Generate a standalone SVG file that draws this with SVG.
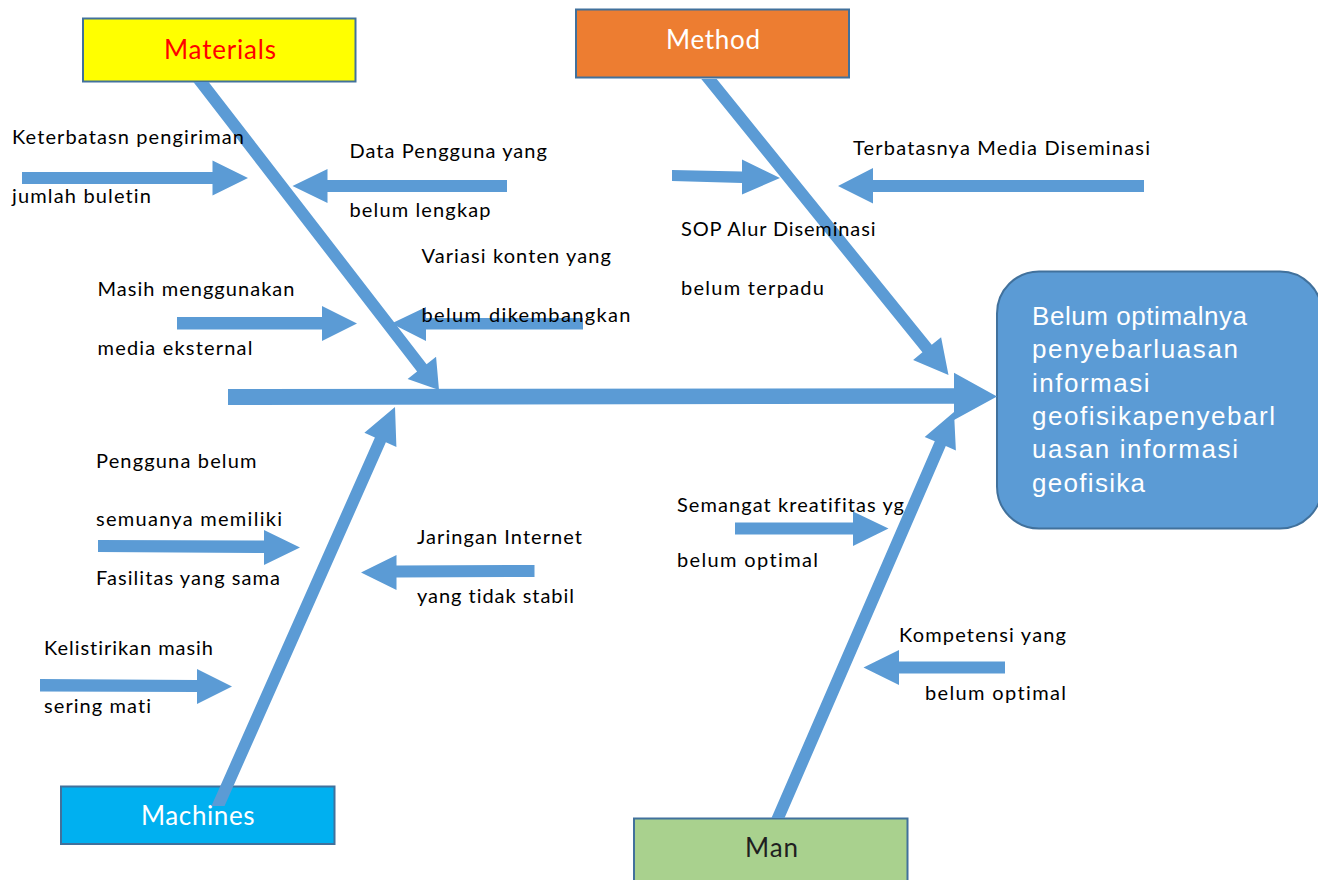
<svg xmlns="http://www.w3.org/2000/svg" width="1318" height="880" viewBox="0 0 1318 880">
<style>
.box{stroke:#41719C;stroke-width:2}
.arr{fill:#5B9BD5;stroke:none}
.cat{font-family:Lato,"Open Sans","Liberation Sans",sans-serif;font-size:26px;font-variant-ligatures:none}
.lbl{font-family:Lato,"Open Sans","Liberation Sans",sans-serif;font-size:20px;fill:#000;font-variant-ligatures:none}
.res{font-family:"Liberation Sans",Arial,sans-serif;font-size:26px;fill:#FFFFFF}
</style>
<rect width="1318" height="880" fill="#FFFFFF"/>

<g id="materials">
<rect class="box" x="83" y="18.5" width="272.5" height="63" fill="#FFFF00"/>
<text class="cat" x="164" y="58.5" fill="#FF0000" textLength="112" lengthAdjust="spacing">Materials</text>
</g>
<g id="method">
<rect class="box" x="576" y="9.5" width="273" height="68" fill="#ED7D31"/>
<text class="cat" x="666" y="49" fill="#FFFFFF" textLength="94" lengthAdjust="spacing">Method</text>
</g>
<g id="machines">
<rect class="box" x="61" y="786.5" width="273.5" height="57.5" fill="#00B0F0"/>
<text class="cat" x="141" y="825" fill="#FFFFFF" textLength="113.5" lengthAdjust="spacing">Machines</text>
</g>
<g id="man">
<rect class="box" x="634" y="818.5" width="273.5" height="80" fill="#A9D18E"/>
<text class="cat" x="745" y="857" fill="#1F1F1F" textLength="53" lengthAdjust="spacing">Man</text>
</g>
<g id="effect">
<rect class="box" x="997" y="271.5" width="325" height="257" rx="42" ry="42" fill="#5B9BD5"/>
<text class="res" x="1032" y="325" textLength="215" lengthAdjust="spacing">Belum optimalnya</text>
<text class="res" x="1032" y="358.3" textLength="206" lengthAdjust="spacing">penyebarluasan</text>
<text class="res" x="1032" y="391.6" textLength="117.5" lengthAdjust="spacing">informasi</text>
<text class="res" x="1032" y="425" textLength="243" lengthAdjust="spacing">geofisikapenyebarl</text>
<text class="res" x="1032" y="458.3" textLength="206" lengthAdjust="spacing">uasan informasi</text>
<text class="res" x="1032" y="491.6" textLength="113" lengthAdjust="spacing">geofisika</text>
</g>

<g id="connectors">
<!-- spine -->
<polygon class="arr" points="228,389 954,388.3 954,372.7 997,396.5 954,420 954,403.8 228,405"/>
<!-- main bones -->
<polygon class="arr" points="193.4,82 417.1,371.55 407.61,378.9 439,390 436.07,356.84 426.58,364.19 208.6,82"/>
<polygon class="arr" points="701.28,79 922.45,352.34 913.12,359.89 948.5,375 941.1,337.25 931.77,344.8 716.72,79"/>
<polygon class="arr" points="224.56,806 385.88,442.34 396.4,447.01 395,407 364.4,432.81 374.92,437.48 211.44,806"/>
<polygon class="arr" points="784.54,818 945.79,446.04 955.88,450.41 954,412 924.68,436.89 934.78,441.26 771.46,818"/>
<!-- cause arrows -->
<polygon class="arr" points="22,172 212.5,172 212.5,160.5 248,178 212.5,195.5 212.5,184 22,184"/>
<polygon class="arr" points="507,180 327.5,180 327.5,169 292.5,186 327.5,203 327.5,192 507,192"/>
<polygon class="arr" points="177,317 322,317 322,306 357,323.5 322,341 322,329.5 177,329.5"/>
<polygon class="arr" points="583,318 426,318 426,307 391.5,323.5 426,341 426,329.5 583,329.5"/>
<polygon class="arr" points="672,170 742,171.5 742,159.5 780,178 742,194.5 742,183 672,181"/>
<polygon class="arr" points="1144,180 873,180 873,168 838,186 873,203.5 873,192 1144,192"/>
<polygon class="arr" points="98,540 264,540.5 264,530 300,547.5 264,565 264,553 98,552"/>
<polygon class="arr" points="534.5,565 396.5,565.5 396.5,555 361,572.5 396.5,590 396.5,577.5 534.5,577"/>
<polygon class="arr" points="40,679 197,680 197,669 232,686.5 197,704 197,692 40,691.5"/>
<polygon class="arr" points="735,522.5 853,522.5 853,511.5 888.5,528.5 853,546 853,534.5 735,534.5"/>
<polygon class="arr" points="1005,661.5 899,661.5 899,650 863.5,667.5 899,685 899,673.5 1005,673.5"/>
</g>

<g id="cause-keterbatasan">
<text class="lbl" x="12" y="144" textLength="232" lengthAdjust="spacing">Keterbatasn pengiriman</text>
<text class="lbl" x="12" y="202.5" textLength="139" lengthAdjust="spacing">jumlah buletin</text>
</g>
<g id="cause-data-pengguna">
<text class="lbl" x="349.5" y="157.5" textLength="197.5" lengthAdjust="spacing">Data Pengguna yang</text>
<text class="lbl" x="349.5" y="217" textLength="141" lengthAdjust="spacing">belum lengkap</text>
</g>
<g id="cause-variasi">
<text class="lbl" x="421.5" y="263" textLength="189.5" lengthAdjust="spacing">Variasi konten yang</text>
<text class="lbl" x="421.5" y="321.5" textLength="209" lengthAdjust="spacing">belum dikembangkan</text>
</g>
<g id="cause-media-eksternal">
<text class="lbl" x="97.5" y="295.5" textLength="197" lengthAdjust="spacing">Masih menggunakan</text>
<text class="lbl" x="97.5" y="355" textLength="155" lengthAdjust="spacing">media eksternal</text>
</g>
<g id="cause-media-diseminasi">
<text class="lbl" x="853" y="155" textLength="297" lengthAdjust="spacing">Terbatasnya Media Diseminasi</text>
</g>
<g id="cause-sop">
<text class="lbl" x="681" y="236" textLength="194.5" lengthAdjust="spacing">SOP Alur Diseminasi</text>
<text class="lbl" x="681" y="295" textLength="143" lengthAdjust="spacing">belum terpadu</text>
</g>
<g id="cause-fasilitas">
<text class="lbl" x="96" y="467.5" textLength="160.5" lengthAdjust="spacing">Pengguna belum</text>
<text class="lbl" x="96" y="526" textLength="186" lengthAdjust="spacing">semuanya memiliki</text>
<text class="lbl" x="96" y="585" textLength="184" lengthAdjust="spacing">Fasilitas yang sama</text>
</g>
<g id="cause-jaringan">
<text class="lbl" x="417" y="544" textLength="165" lengthAdjust="spacing">Jaringan Internet</text>
<text class="lbl" x="417" y="602.5" textLength="157" lengthAdjust="spacing">yang tidak stabil</text>
</g>
<g id="cause-listrik">
<text class="lbl" x="44" y="655" textLength="169" lengthAdjust="spacing">Kelistirikan masih</text>
<text class="lbl" x="44" y="713" textLength="107" lengthAdjust="spacing">sering mati</text>
</g>
<g id="cause-semangat">
<text class="lbl" x="677" y="511.5" textLength="227" lengthAdjust="spacing">Semangat kreatifitas yg</text>
<text class="lbl" x="677" y="566.5" textLength="141" lengthAdjust="spacing">belum optimal</text>
</g>
<g id="cause-kompetensi">
<text class="lbl" x="899" y="641.5" textLength="167" lengthAdjust="spacing">Kompetensi yang</text>
<text class="lbl" x="925" y="700" textLength="141" lengthAdjust="spacing">belum optimal</text>
</g>
</svg>
